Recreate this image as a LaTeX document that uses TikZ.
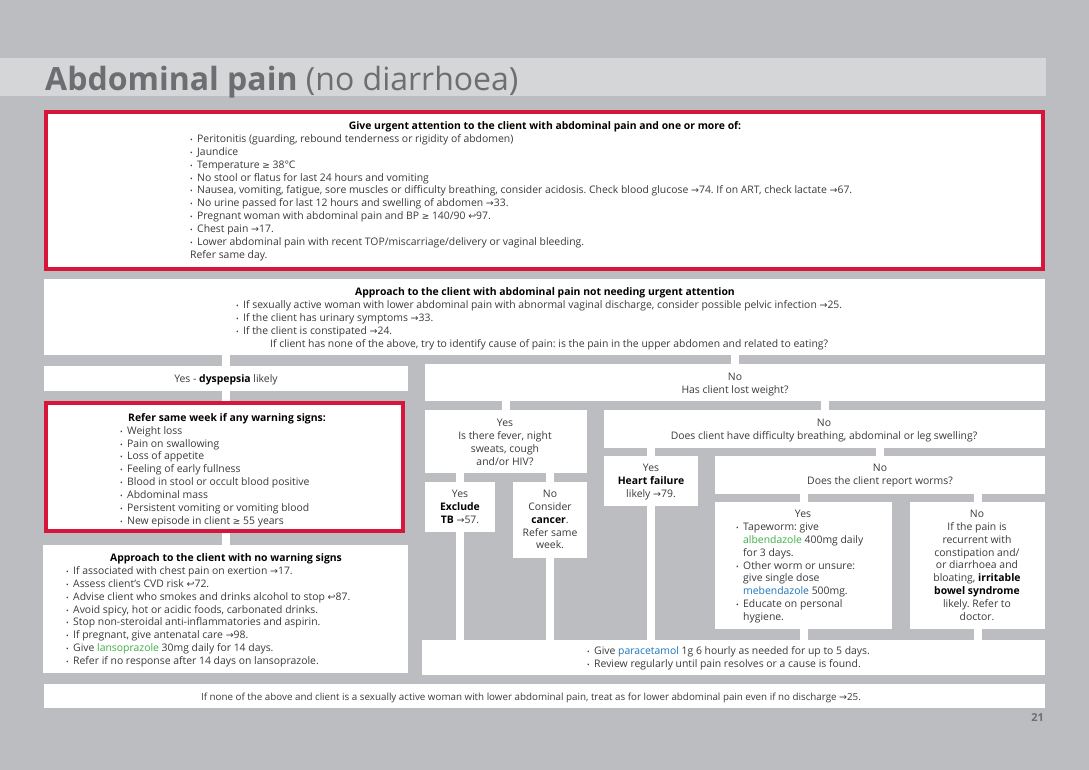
\documentclass[tikz,border=0pt]{standalone}
\usepackage{fontspec}
\setmainfont{Open Sans}
\newfontfamily\symfont{DejaVu Sans}
\usepackage{xcolor}
\definecolor{pagegrey}{HTML}{BCBDC0}
\definecolor{bandgrey}{HTML}{D5D6D8}
\definecolor{titlegrey}{HTML}{6D6E71}
\definecolor{alertred}{HTML}{D6163A}
\definecolor{bodytext}{HTML}{3A3A3A}
\definecolor{druggreen}{HTML}{3DAE49}
\definecolor{drugblue}{HTML}{1C75BC}
\frenchspacing
\newcommand{\bodyfont}{\fontsize{10.4pt}{12.85pt}\selectfont}
\newcommand{\ra}{{\symfont\fontsize{9.5pt}{10pt}\selectfont →}}
\newcommand{\rb}{{\symfont\fontsize{9.5pt}{10pt}\selectfont ↩}}
\newcommand{\atleast}{{\symfont\fontsize{9pt}{10pt}\selectfont ≥}}
\newcommand{\bul}{\makebox[7pt][l]{\scriptsize •}}
\newcommand{\drug}[1]{\textcolor{druggreen}{#1}}
\newcommand{\drugb}[1]{\textcolor{drugblue}{#1}}

\begin{document}
\begin{tikzpicture}[x=1pt, y=-1pt,
  box/.style={fill=white, inner sep=0pt, outer sep=0pt},
  alertbox/.style={draw=alertred, line width=4pt, fill=white, inner sep=0pt},
  link/.style={draw=white, line width=8pt},
  txt/.style={inner sep=0pt, text=bodytext, font=\bodyfont, align=left},
  ctxt/.style={txt, align=center},
  hd/.style={inner sep=0pt, text=black, font=\bodyfont\bfseries}]
\useasboundingbox (0,0) rectangle (1089,770);
\fill[pagegrey] (0,0) rectangle (1089,770);
% --- title band ---
\fill[bandgrey] (0,58) rectangle (1046,96);
\node[anchor=base west, inner sep=0pt, text=titlegrey, font=\fontsize{32pt}{36pt}\selectfont] (title) at (45,91) {\textbf{Abdominal pain} (no diarrhoea)};
\node[anchor=base east, inner sep=0pt, text=titlegrey, font=\fontsize{11pt}{12pt}\selectfont\bfseries] (pageno) at (1044,721) {21};
% --- urgent attention ---
\node[alertbox, minimum width=997, minimum height=157] (urgent) at (544.5,190.5) {};
\node[hd, anchor=base] (urgenthd) at (545,129.5) {Give urgent attention to the client with abdominal pain and one or more of:};
\node[txt, anchor=base west] (urgentlist) at (190,258.2) {\bul Peritonitis (guarding, rebound tenderness or rigidity of abdomen)\\
\bul Jaundice\\
\bul Temperature \atleast{} 38°C\\
\bul No stool or flatus for last 24 hours and vomiting\\
\bul Nausea, vomiting, fatigue, sore muscles or difficulty breathing, consider acidosis. Check blood glucose \ra74. If on ART, check lactate \ra67.\\
\bul No urine passed for last 12 hours and swelling of abdomen \ra33.\\
\bul Pregnant woman with abdominal pain and BP \atleast{} 140/90 \rb97.\\
\bul Chest pain \ra17.\\
\bul Lower abdominal pain with recent TOP/miscarriage/delivery or vaginal bleeding.\\
Refer same day.};
% --- not urgent ---
\node[box, minimum width=1001, minimum height=76] (approach) at (544.5,317) {};
\node[hd, anchor=base] (approachhd) at (545,295.5) {Approach to the client with abdominal pain not needing urgent attention};
\node[txt, anchor=base west] (approachlist) at (236,334.2) {\bul If sexually active woman with lower abdominal pain with abnormal vaginal discharge, consider possible pelvic infection \ra25.\\
\bul If the client has urinary symptoms \ra33.\\
\bul If the client is constipated \ra24.};
\node[txt, anchor=base west] (approachq) at (270,347.5) {If client has none of the above, try to identify cause of pain: is the pain in the upper abdomen and related to eating?};
% --- dyspepsia branch ---
\node[box, minimum width=364, minimum height=25] (dys) at (226,378.5) {};
\node[txt, anchor=base] (dystxt) at (226,382.5) {Yes - \textbf{\color{black}dyspepsia} likely};
\node[alertbox, minimum width=357, minimum height=128] (warn) at (224.5,467) {};
\node[hd, anchor=base west] (warnhd) at (128,421.5) {Refer same week if any warning signs:};
\node[txt, anchor=base west] (warnlist) at (120,524.2) {\bul Weight loss\\
\bul Pain on swallowing\\
\bul Loss of appetite\\
\bul Feeling of early fullness\\
\bul Blood in stool or occult blood positive\\
\bul Abdominal mass\\
\bul Persistent vomiting or vomiting blood\\
\bul New episode in client \atleast{} 55 years};
\node[box, minimum width=365, minimum height=128] (nowarn) at (225.5,609) {};
\node[hd, anchor=base] (nowarnhd) at (226,561.5) {Approach to the client with no warning signs};
\node[txt, anchor=base west] (nowarnlist) at (66,664.5) {\bul If associated with chest pain on exertion \ra17.\\
\bul Assess client’s CVD risk \rb72.\\
\bul Advise client who smokes and drinks alcohol to stop \rb87.\\
\bul Avoid spicy, hot or acidic foods, carbonated drinks.\\
\bul Stop non-steroidal anti-inflammatories and aspirin.\\
\bul If pregnant, give antenatal care \ra98.\\
\bul Give \drug{lansoprazole} 30mg daily for 14 days.\\
\bul Refer if no response after 14 days on lansoprazole.};
% --- no dyspepsia branch ---
\node[box, minimum width=620, minimum height=37] (weight) at (735,382.5) {};
\node[ctxt, anchor=base] (weighttxt) at (735,393.4) {No\\Has client lost weight?};
\node[box, minimum width=162, minimum height=63] (fever) at (506,441.5) {};
\node[ctxt, anchor=base] (fevertxt) at (505,465) {Yes\\Is there fever, night\\sweats, cough\\and/or HIV?};
\node[box, minimum width=441, minimum height=38] (breath) at (824.5,429) {};
\node[ctxt, anchor=base] (breathtxt) at (824,439.4) {No\\Does client have difficulty breathing, abdominal or leg swelling?};
\node[box, minimum width=70, minimum height=50] (tb) at (460,507) {};
\node[ctxt, anchor=base] (tbtxt) at (460,523.2) {Yes\\\textbf{\color{black}Exclude}\\\textbf{\color{black}TB} \ra57.};
\node[box, minimum width=74, minimum height=76] (cancer) at (550,520) {};
\node[ctxt, anchor=base] (cancertxt) at (550,548.9) {No\\Consider\\\textbf{\color{black}cancer}.\\Refer same\\week.};
\node[box, minimum width=94, minimum height=50] (heart) at (651,481) {};
\node[ctxt, anchor=base] (hearttxt) at (651,497.2) {Yes\\\textbf{\color{black}Heart failure}\\likely \ra79.};
\node[box, minimum width=330, minimum height=38] (worms) at (880,475) {};
\node[ctxt, anchor=base] (wormstxt) at (880,484.4) {No\\Does the client report worms?};
\node[box, minimum width=177, minimum height=127] (wormyes) at (803.5,565.5) {};
\node[txt, anchor=base] (wormyeshd) at (803,517.5) {Yes};
\node[txt, anchor=base west] (wormyeslist) at (736,620.4) {\bul Tapeworm: give\\
\hspace*{7pt}\drug{albendazole} 400mg daily\\
\hspace*{7pt}for 3 days.\\
\bul Other worm or unsure:\\
\hspace*{7pt}give single dose\\
\hspace*{7pt}\drugb{mebendazole} 500mg.\\
\bul Educate on personal\\
\hspace*{7pt}hygiene.};
\node[box, minimum width=135, minimum height=127] (ibs) at (977.5,565.5) {};
\node[ctxt, anchor=base] (ibstxt) at (977,620.3) {No\\If the pain is\\recurrent with\\constipation and/\\or diarrhoea and\\bloating, \textbf{\color{black}irritable}\\\textbf{\color{black}bowel syndrome}\\likely. Refer to\\doctor.};
\node[box, minimum width=623, minimum height=35] (para) at (733.5,657.5) {};
\node[txt, anchor=base west] (paralist) at (587,667.4) {\bul Give \drugb{paracetamol} 1g 6 hourly as needed for up to 5 days.\\
\bul Review regularly until pain resolves or a cause is found.};
% --- last resort ---
\node[box, minimum width=1001, minimum height=24] (lower) at (544.5,696) {};
\node[txt, anchor=base, font=\fontsize{9.8pt}{12pt}\selectfont] (lowertxt) at (531,700) {If none of the above and client is a sexually active woman with lower abdominal pain, treat as for lower abdominal pain even if no discharge \ra25.};
% --- links ---
\draw[link] (approach.south -| dys.north) -- (dys.north);
\draw[link] (approach.south -| weight.north) -- (weight.north);
\draw[link] (dys.south) -- (dys.south |- warn.north);
\draw[link] (dys.south |- warn.south) -- (dys.south |- nowarn.north);
\draw[link] (weight.south -| fever.north) -- (fever.north);
\draw[link] (weight.south -| breath.north) -- (breath.north);
\draw[link] (fever.south -| tb.north) -- (tb.north);
\draw[link] (fever.south -| cancer.north) -- (cancer.north);
\draw[link] (breath.south -| heart.north) -- (heart.north);
\draw[link] (breath.south -| worms.north) -- (worms.north);
\draw[link] (worms.south -| wormyes.north) -- (wormyes.north);
\draw[link] (worms.south -| ibs.north) -- (ibs.north);
\draw[link] (tb.south) -- (tb.south |- para.north);
\draw[link] (cancer.south) -- (cancer.south |- para.north);
\draw[link] (heart.south) -- (heart.south |- para.north);
\draw[link] (wormyes.south) -- (wormyes.south |- para.north);
\draw[link] (ibs.south) -- (ibs.south |- para.north);
\end{tikzpicture}
\end{document}
